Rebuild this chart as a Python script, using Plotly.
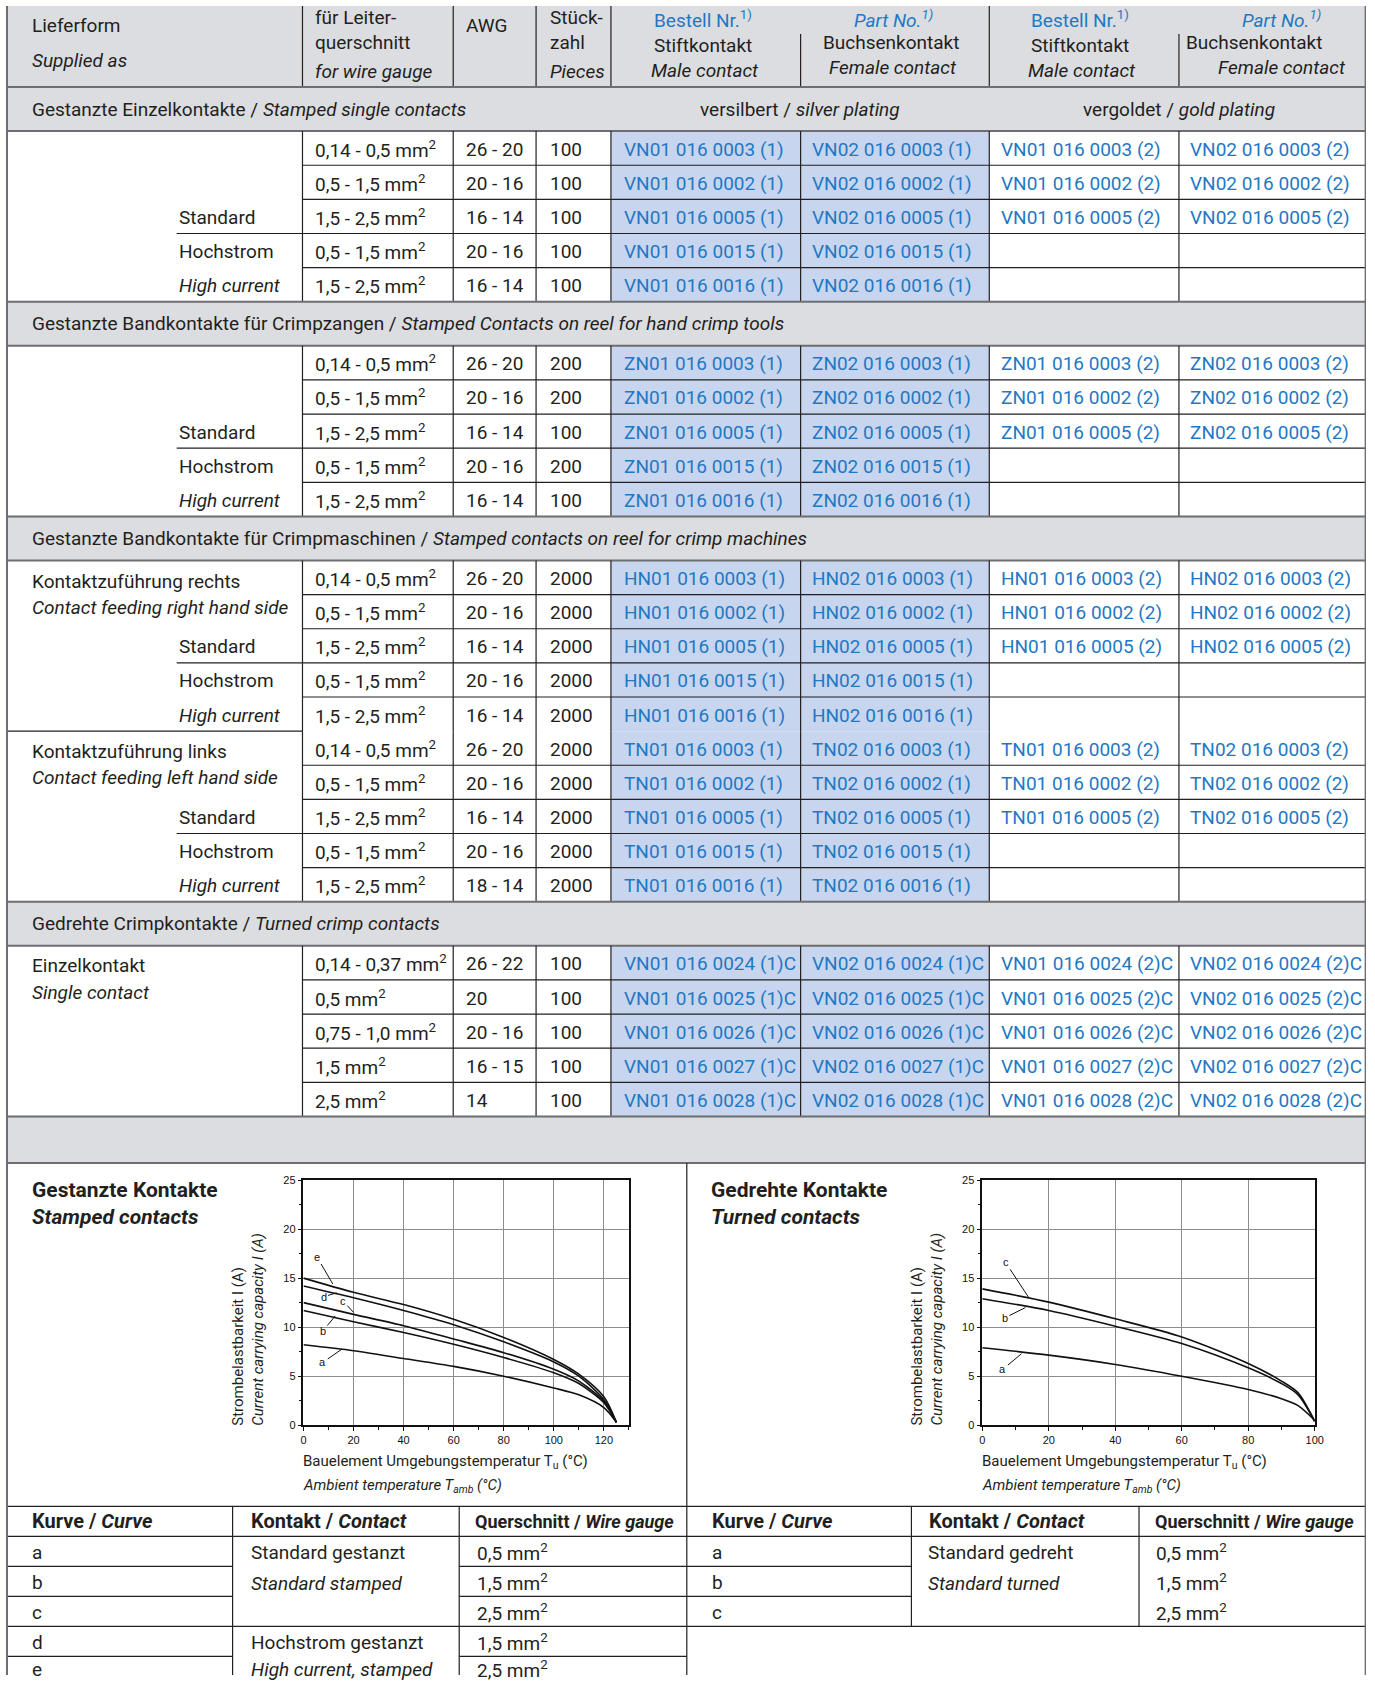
import plotly.graph_objects as go

W, H = 1375, 1681

# the photographed page comes out slightly scaled/offset; positions below are in
# reference-picture pixels and these map them back onto the page
OX, SX = 2.0, 0.993
OY, SY = 7.0, 0.992

FONT = "Roboto, Liberation Sans, sans-serif"
CHART_FONT = "Liberation Sans, Arial, Helvetica, sans-serif"

TXT = "#231f20"
BLUE = "#1f78c4"
GREY_BG = "#dcdde0"
BLUE_BG = "#c7d5ee"
LINE = "#231f20"
BORDER = "#6d6e71"

# ---- table data ----
SECTION_TITLES = [
    "Gestanzte Einzelkontakte / <i>Stamped single contacts</i>",
    "Gestanzte Bandkontakte für Crimpzangen / <i>Stamped Contacts on reel for hand crimp tools</i>",
    "Gestanzte Bandkontakte für Crimpmaschinen / <i>Stamped contacts on reel for crimp machines</i>",
    "Gedrehte Crimpkontakte / <i>Turned crimp contacts</i>",
]

GAUGE_STAMPED = ["0,14 - 0,5 mm<sup>2</sup>", "0,5 - 1,5 mm<sup>2</sup>", "1,5 - 2,5 mm<sup>2</sup>",
                 "0,5 - 1,5 mm<sup>2</sup>", "1,5 - 2,5 mm<sup>2</sup>"]
AWG_STAMPED = ["26 - 20", "20 - 16", "16 - 14", "20 - 16", "16 - 14"]
AWG_TN = ["26 - 20", "20 - 16", "16 - 14", "20 - 16", "18 - 14"]
CODES_STAMPED = ["0003", "0002", "0005", "0015", "0016"]

PIECES_VN = [100, 100, 100, 100, 100]
PIECES_ZN = [200, 200, 100, 200, 100]
PIECES_HN = [2000, 2000, 2000, 2000, 2000]
PIECES_TN = [2000, 2000, 2000, 2000, 2000]

GAUGE_TURNED = ["0,14 - 0,37 mm<sup>2</sup>", "0,5 mm<sup>2</sup>", "0,75 - 1,0 mm<sup>2</sup>",
                "1,5 mm<sup>2</sup>", "2,5 mm<sup>2</sup>"]
AWG_TURNED = ["26 - 22", "20", "20 - 16", "16 - 15", "14"]
CODES_TURNED = ["0024", "0025", "0026", "0027", "0028"]
PIECES_TURNED = [100, 100, 100, 100, 100]

# ---- curve data (current capacity vs ambient temperature) ----
T_STAMPED = [0, 20, 40, 60, 80, 100, 110, 120, 125]
I_STAMPED_A = [8.2, 7.6, 6.8, 6.0, 5.0, 3.8, 3.1, 1.8, 0.3]
I_STAMPED_B = [11.7, 10.55, 9.45, 8.25, 6.9, 5.35, 4.25, 2.3, 0.3]
I_STAMPED_C = [12.5, 11.3, 10.15, 8.8, 7.4, 5.7, 4.5, 2.45, 0.3]
I_STAMPED_D = [14.2, 13.0, 11.7, 10.25, 8.5, 6.45, 5.0, 2.6, 0.3]
I_STAMPED_E = [15.0, 13.55, 12.3, 10.8, 8.95, 6.7, 5.2, 2.9, 0.3]

T_TURNED = [0, 20, 40, 60, 80, 90, 95, 100]
I_TURNED_A = [7.9, 7.15, 6.2, 5.0, 3.65, 2.7, 2.0, 0.5]
I_TURNED_B = [12.9, 11.7, 10.1, 8.33, 5.85, 4.25, 3.1, 0.4]
I_TURNED_C = [13.9, 12.55, 10.85, 9.0, 6.3, 4.5, 3.3, 0.4]

# label anchor (on curve) and label text position, per curve
LBL_STAMPED = {"a": (15.3, 7.75, 7.7, 6.4), "b": (12.7, 11.15, 7.7, 9.6), "c": (20, 11.5, 15.7, 12.7),
               "d": (13.3, 13.5, 8, 13.1), "e": (11.7, 14.4, 5.3, 17.2)}
LBL_TURNED = {"a": (11.8, 7.3, 6.2, 5.7), "b": (13, 12.0, 6.8, 10.95), "c": (14, 13.0, 7, 16.6)}

# ---- bottom legend tables ----
CURVES_STAMPED = ["a", "b", "c", "d", "e"]
GAUGE_CURVES_STAMPED = ["0,5 mm<sup>2</sup>", "1,5 mm<sup>2</sup>", "2,5 mm<sup>2</sup>",
                        "1,5 mm<sup>2</sup>", "2,5 mm<sup>2</sup>"]
CURVES_TURNED = ["a", "b", "c"]
GAUGE_CURVES_TURNED = ["0,5 mm<sup>2</sup>", "1,5 mm<sup>2</sup>", "2,5 mm<sup>2</sup>"]

# ---- geometry (reference pixels) ----
COLS = [6, 302, 453, 536, 611, 801, 990, 1180, 1367]
TOP, HEAD_B = 4, 88
BAND_H, ROW_H = 44, 34.1
FS = 19

shapes, annotations = [], []


def hline(x0, x1, y, color=LINE, width=1.2):
    shapes.append(dict(type="line", xref="x", yref="y", x0=x0, x1=x1, y0=y, y1=y,
                       line=dict(color=color, width=width)))


def vline(x, y0, y1, color=LINE, width=1.2):
    shapes.append(dict(type="line", xref="x", yref="y", x0=x, x1=x, y0=y0, y1=y1,
                       line=dict(color=color, width=width)))


def rect(x0, y0, x1, y1, fill):
    shapes.append(dict(type="rect", xref="x", yref="y", x0=x0, x1=x1, y0=y0, y1=y1,
                       fillcolor=fill, line=dict(width=0), layer="below"))


def text(x, y, s, anchor="left", size=FS, color=TXT, italic=False, bold=False):
    annotations.append(dict(x=x, y=y, xref="x", yref="y", text=s, showarrow=False,
                            xanchor=anchor, yanchor="middle",
                            font=dict(family=FONT, size=size, color=color,
                                      style="italic" if italic else "normal",
                                      weight="bold" if bold else "normal")))


# header
rect(COLS[0], TOP, COLS[-1], HEAD_B, GREY_BG)
text(29, 26, "Lieferform")
text(29, 61, "Supplied as", italic=True)
text(313, 18, "für Leiter-")
text(313, 43, "querschnitt")
text(313, 72, "for wire gauge", italic=True)
text(464, 26, "AWG")
text(548, 18, "Stück-")
text(548, 43, "zahl")
text(548, 72, "Pieces", italic=True)
for cx, cx2 in [(703, 894), (1081, 1283)]:
    text(cx, 20, "Bestell Nr.<sup>1)</sup>", "center", color=BLUE)
    text(cx, 46, "Stiftkontakt", "center")
    text(cx + 2, 71, "Male contact", "center", italic=True)
    text(cx2, 20, "Part No.<sup>1)</sup>", "center", color=BLUE, italic=True)
    text(cx2, 68, "Female contact", "center", italic=True)
text(892, 43, "Buchsenkontakt", "center")
text(1185, 43, "Buchsenkontakt")
for x in COLS[1:5] + [COLS[6]]:
    vline(x, TOP, HEAD_B)
vline(COLS[5], 35, HEAD_B)
vline(COLS[7], 35, HEAD_B)


def part(prefix, kind, plating, code, suffix=""):
    return f"{prefix}0{kind} 016 {code} ({plating}){suffix}"


def section_rows(y0, gauges, awgs, pieces, prefix, codes, n_gold, suffix=""):
    n = len(gauges)
    y1 = y0 + n * ROW_H
    rect(COLS[4], y0, COLS[6], y1, BLUE_BG)
    for i in range(n):
        yc = y0 + (i + 0.5) * ROW_H + 1
        text(COLS[1] + 11, yc, gauges[i])
        text(COLS[2] + 11, yc, awgs[i])
        text(COLS[3] + 12, yc, str(pieces[i]))
        text(COLS[4] + 11, yc, part(prefix, 1, 1, codes[i], suffix), color=BLUE)
        text(COLS[5] + 9, yc, part(prefix, 2, 1, codes[i], suffix), color=BLUE)
        if i < n_gold:
            text(COLS[6] + 10, yc, part(prefix, 1, 2, codes[i], suffix), color=BLUE)
            text(COLS[7] + 9, yc, part(prefix, 2, 2, codes[i], suffix), color=BLUE)
        if i > 0:
            hline(COLS[1], COLS[-1], y0 + i * ROW_H)
    for x in COLS[1:-1]:
        vline(x, y0, y1)
    return y1


def std_labels(y0):
    text(176, y0 + 2.5 * ROW_H + 1, "Standard")
    hline(176, COLS[1], y0 + 3 * ROW_H)
    text(176, y0 + 3.5 * ROW_H + 1, "Hochstrom")
    text(176, y0 + 4.5 * ROW_H + 1, "High current", italic=True)


def band(y, title, plating=False):
    rect(COLS[0], y, COLS[-1], y + BAND_H, GREY_BG)
    text(29, y + BAND_H / 2, title)
    if plating:
        text(800, y + BAND_H / 2, "versilbert / <i>silver plating</i>", "center")
        text(1180, y + BAND_H / 2, "vergoldet / <i>gold plating</i>", "center")
    hline(COLS[0], COLS[-1], y, BORDER, 2)
    hline(COLS[0], COLS[-1], y + BAND_H, BORDER, 2)
    return y + BAND_H


y = band(HEAD_B, SECTION_TITLES[0], plating=True)
std_labels(y)
y = section_rows(y, GAUGE_STAMPED, AWG_STAMPED, PIECES_VN, "VN", CODES_STAMPED, 3)

y = band(y, SECTION_TITLES[1])
std_labels(y)
y = section_rows(y, GAUGE_STAMPED, AWG_STAMPED, PIECES_ZN, "ZN", CODES_STAMPED, 3)

y = band(y, SECTION_TITLES[2])
text(29, y + 21, "Kontaktzuführung rechts")
text(29, y + 47, "Contact feeding right hand side", italic=True)
std_labels(y)
y = section_rows(y, GAUGE_STAMPED, AWG_STAMPED, PIECES_HN, "HN", CODES_STAMPED, 3)
hline(COLS[0], COLS[1], y)
text(29, y + 20, "Kontaktzuführung links")
text(29, y + 46, "Contact feeding left hand side", italic=True)
std_labels(y)
y = section_rows(y, GAUGE_STAMPED, AWG_TN, PIECES_TN, "TN", CODES_STAMPED, 3)

y = band(y, SECTION_TITLES[3])
text(29, y + 20, "Einzelkontakt")
text(29, y + 47, "Single contact", italic=True)
y = section_rows(y, GAUGE_TURNED, AWG_TURNED, PIECES_TURNED, "VN", CODES_TURNED, 5, "C")

# empty grey band
GREY_B = 1163
rect(COLS[0], y, COLS[-1], GREY_B, GREY_BG)
hline(COLS[0], COLS[-1], y, BORDER, 2)
hline(COLS[0], COLS[-1], GREY_B, BORDER, 2)

# chart area titles
MID = 687
vline(MID, GREY_B, H)
text(29, 1190, "Gestanzte Kontakte", size=21, bold=True)
text(29, 1217, "Stamped contacts", size=21, bold=True, italic=True)
text(709, 1190, "Gedrehte Kontakte", size=21, bold=True)
text(709, 1217, "Turned contacts", size=21, bold=True, italic=True)

PLOT_T, PLOT_B = 1180, 1425
LEFT_PLOT = (303, 629)
RIGHT_PLOT = (983, 1316)

for (px0, px1) in [LEFT_PLOT, RIGHT_PLOT]:
    annotations.append(dict(x=px0 - 55, y=1329, xref="x", yref="y", textangle=-90,
                            text="Strombelastbarkeit I (A)<br><i>Current carrying capacity I (A)</i>",
                            showarrow=False, xanchor="center", yanchor="middle", align="left",
                            font=dict(family=FONT, size=15, color=TXT)))
    text(px0 - 2, 1462, "Bauelement Umgebungstemperatur T<sub>u</sub> (°C)", size=15)
    text(px0 - 2, 1486, "Ambient temperature T<sub>amb</sub> (°C)", size=15, italic=True)

# bottom legend tables
BT_TOP, BT_ROW = 1506, 30
LT = [6, 232, 459, MID]
RT = [MID, 912, 1140, COLS[-1]]
hline(COLS[0], COLS[-1], BT_TOP)
hline(COLS[0], COLS[-1], BT_TOP + BT_ROW)
for cols in (LT, RT):
    text(cols[0] + 23, BT_TOP + 15, "Kurve / <i>Curve</i>", size=20, bold=True)
    text(cols[1] + 16, BT_TOP + 15, "Kontakt / <i>Contact</i>", size=20, bold=True)
    text(cols[2] + 14, BT_TOP + 15, "Querschnitt / <i>Wire gauge</i>", size=18, bold=True)
vline(LT[1], BT_TOP, H)
vline(LT[2], BT_TOP, H)


def row_mid(i):
    # last legend row runs into the page edge; keep its text just inside
    return BT_TOP + BT_ROW * (i + 1.5) + (1 if i < 4 else -2)


for i, c in enumerate(CURVES_STAMPED):
    text(LT[0] + 23, row_mid(i), c)
    text(LT[2] + 16, row_mid(i), GAUGE_CURVES_STAMPED[i])
    if i > 0:
        hline(LT[0], LT[1], BT_TOP + BT_ROW * (i + 1))
        hline(LT[2], LT[3], BT_TOP + BT_ROW * (i + 1))
hline(LT[1], LT[2], BT_TOP + BT_ROW * 4)
text(LT[1] + 16, row_mid(0), "Standard gestanzt")
text(LT[1] + 16, row_mid(1) + 1, "Standard stamped", italic=True)
text(LT[1] + 16, row_mid(3), "Hochstrom gestanzt")
text(LT[1] + 16, row_mid(4), "High current, stamped", italic=True)

vline(RT[1], BT_TOP, BT_TOP + BT_ROW * 4)
vline(RT[2], BT_TOP, BT_TOP + BT_ROW * 4)
for i, c in enumerate(CURVES_TURNED):
    text(RT[0] + 23, row_mid(i), c)
    text(RT[2] + 15, row_mid(i), GAUGE_CURVES_TURNED[i])
    if i > 0:
        hline(RT[0], RT[1], BT_TOP + BT_ROW * (i + 1))
hline(RT[0], RT[3], BT_TOP + BT_ROW * 4)
text(RT[1] + 15, row_mid(0), "Standard gedreht")
text(RT[1] + 15, row_mid(1) + 1, "Standard turned", italic=True)

# outer border
hline(COLS[0], COLS[-1], TOP, BORDER, 2)
vline(COLS[0], TOP, H, BORDER, 2)
vline(COLS[-1], TOP, H, BORDER, 2)

# ---- figure ----
fig = go.Figure()
fig.add_trace(go.Scatter(x=[], y=[], xaxis="x", yaxis="y", showlegend=False))

curve_sets = [
    ("x2", "y2", T_STAMPED, [I_STAMPED_A, I_STAMPED_B, I_STAMPED_C, I_STAMPED_D, I_STAMPED_E], LBL_STAMPED),
    ("x3", "y3", T_TURNED, [I_TURNED_A, I_TURNED_B, I_TURNED_C], LBL_TURNED),
]
for xa, ya, t, series, lbls in curve_sets:
    for s in series:
        fig.add_trace(go.Scatter(x=t, y=s, xaxis=xa, yaxis=ya, mode="lines", showlegend=False,
                                 line=dict(color="#111111", width=1.6, shape="spline", smoothing=0.8),
                                 hoverinfo="skip"))
    for name, (x, yv, tx, ty) in lbls.items():
        annotations.append(dict(x=x, y=yv, ax=tx, ay=ty, xref=xa, yref=ya, axref=xa, ayref=ya,
                                text=name, showarrow=True, arrowhead=0, arrowwidth=1,
                                arrowcolor="#111111", standoff=0,
                                font=dict(family=CHART_FONT, size=11, color="#111111")))


def dom_x(a, b):
    return [(a - OX) / SX / W, (b - OX) / SX / W]


def dom_y(top, bottom):
    return [1 - (bottom - OY) / SY / H, 1 - (top - OY) / SY / H]


base_axis = dict(visible=False, showgrid=False, zeroline=False, fixedrange=True)


def chart_x(px, rng):
    return dict(domain=dom_x(*px), range=rng, dtick=20, tick0=0,
                showgrid=True, gridcolor="#8c8c8c", gridwidth=1, zeroline=False,
                showline=True, mirror=True, linecolor="#111111", linewidth=1.5,
                ticks="outside", ticklen=4, tickcolor="#111111",
                minor=dict(dtick=10, ticks="outside", ticklen=3, tickcolor="#111111", showgrid=False),
                tickfont=dict(family=CHART_FONT, size=11, color="#111111"), fixedrange=True)


def chart_y(anchor):
    return dict(domain=dom_y(PLOT_T, PLOT_B), range=[0, 25], dtick=5, anchor=anchor,
                showgrid=True, gridcolor="#8c8c8c", gridwidth=1, zeroline=False,
                showline=True, mirror=True, linecolor="#111111", linewidth=1.5,
                ticks="outside", ticklen=4, tickcolor="#111111",
                minor=dict(dtick=2.5, ticks="outside", ticklen=3, tickcolor="#111111", showgrid=False),
                tickfont=dict(family=CHART_FONT, size=11, color="#111111"), fixedrange=True)


fig.update_layout(
    width=W, height=H,
    margin=dict(l=0, r=0, t=0, b=0),
    paper_bgcolor="white",
    plot_bgcolor="rgba(0,0,0,0)",
    showlegend=False,
    xaxis=dict(base_axis, domain=[0, 1], range=[OX, OX + SX * W]),
    yaxis=dict(base_axis, domain=[0, 1], range=[OY + SY * H, OY]),
    xaxis2=dict(chart_x(LEFT_PLOT, [0, 130]), anchor="y2"),
    yaxis2=chart_y("x2"),
    xaxis3=dict(chart_x(RIGHT_PLOT, [0, 100]), anchor="y3"),
    yaxis3=chart_y("x3"),
    shapes=shapes,
    annotations=annotations,
)

# page body has a default margin; remove it so the figure sits at the page origin
fig.write_html("out.html", config={"displayModeBar": False},
               post_script="document.body.style.margin='0px';")
